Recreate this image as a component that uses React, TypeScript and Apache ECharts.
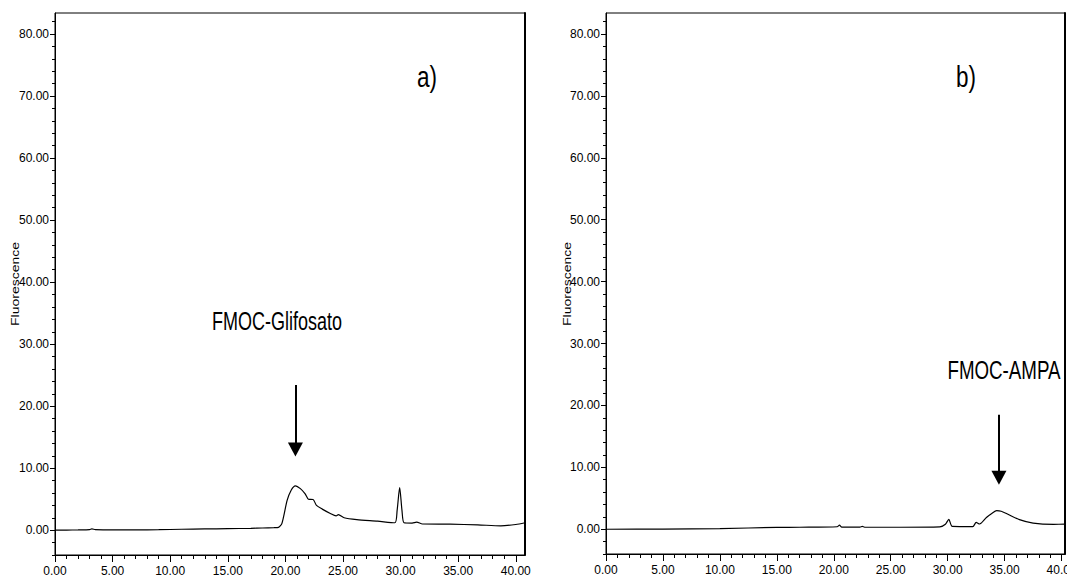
import React, { useEffect, useRef } from "react";
import * as echarts from "echarts";

// ---- data ----
const timeA = [0, 1, 2, 3, 3.2, 3.5, 5, 7, 9, 11, 13, 15, 17, 18, 19, 19.4, 19.7, 20.15, 20.5, 20.87, 21.3, 21.7, 22.0, 22.4, 22.7, 23.2, 23.9, 24.4, 24.6, 25.1, 26.2, 28, 29.5, 29.7, 29.92, 30.12, 30.3, 31.0, 31.4, 31.9, 34.3, 36.7, 38.7, 40, 40.8];
const signalA = [0.0, 0.02, 0.05, 0.1, 0.2, 0.1, 0.05, 0.05, 0.08, 0.15, 0.2, 0.25, 0.3, 0.35, 0.4, 0.45, 1.1, 4.8, 6.45, 7.15, 6.7, 5.9, 5.0, 4.95, 4.0, 3.4, 2.7, 2.3, 2.5, 2.0, 1.7, 1.45, 1.2, 3.2, 6.85, 3.2, 1.2, 1.15, 1.3, 1.0, 0.97, 0.86, 0.7, 0.92, 1.2];

const timeB = [0, 5, 10, 15, 17, 20.3, 20.5, 20.7, 22.3, 22.5, 22.7, 25.8, 29.3, 29.8, 30.1, 30.4, 32.2, 32.5, 32.8, 33.4, 33.9, 34.3, 34.7, 35.2, 36.3, 37.5, 39.3, 40.3];
const signalB = [0.0, 0.02, 0.1, 0.3, 0.32, 0.4, 0.65, 0.35, 0.35, 0.45, 0.33, 0.32, 0.37, 0.8, 1.6, 0.45, 0.42, 1.1, 0.85, 1.9, 2.6, 3.0, 2.9, 2.5, 1.56, 1.0, 0.8, 0.82];

const xMajorTicks = [0, 5, 10, 15, 20, 25, 30, 35, 40];
const xMinorTicks = [0, 1, 2, 3, 4, 5, 6, 7, 8, 9, 10, 11, 12, 13, 14, 15, 16, 17, 18, 19, 20, 21, 22, 23, 24, 25, 26, 27, 28, 29, 30, 31, 32, 33, 34, 35, 36, 37, 38, 39, 40];
const yMajorTicks = [0, 10, 20, 30, 40, 50, 60, 70, 80];
const yMinorTicks = [-4, -2, 0, 2, 4, 6, 8, 10, 12, 14, 16, 18, 20, 22, 24, 26, 28, 30, 32, 34, 36, 38, 40, 42, 44, 46, 48, 50, 52, 54, 56, 58, 60, 62, 64, 66, 68, 70, 72, 74, 76, 78, 80, 82];

const xMaxA = 40.8;
const xMaxB = 40.3;
const yMin = -4;
const yMax = 83.4;

const arrowA = [[20.87, 23.4], [20.87, 13.0]];
const arrowB = [[34.5, 18.5], [34.5, 8.3]];

const panelLabels = ["a)", "b)"];
const peakLabels = ["FMOC-Glifosato", "FMOC-AMPA"];
const yTitle = "Fluorescence";

const tickFont = "'Liberation Sans Narrow', 'Arial Narrow', 'Liberation Sans', Arial, sans-serif";
const textFont = "'Liberation Sans', Arial, sans-serif";

function pairs(xs: number[], ys: number[]) {
  return xs.map((x, i) => [x, ys[i]]);
}

export default function App() {
  const ref = useRef<HTMLDivElement>(null);

  useEffect(() => {
    if (!ref.current) return;
    const chart = echarts.init(ref.current, undefined, { renderer: "svg" });

    const grids = [
      { left: 55, top: 13, width: 470, height: 542 },
      { left: 606, top: 13, width: 459, height: 541 },
    ];
    const xMaxes = [xMaxA, xMaxB];

    const xAxis: any[] = [];
    const yAxis: any[] = [];
    grids.forEach((_, i) => {
      xAxis.push({
        gridIndex: i,
        type: "value",
        position: "bottom",
        min: 0,
        max: xMaxes[i],
        axisLine: { show: true, onZero: false, lineStyle: { color: "#000", width: 1 } },
        axisTick: { show: true, customValues: xMajorTicks, length: 7, lineStyle: { color: "#000", width: 1 } },
        axisLabel: {
          show: true,
          customValues: xMajorTicks,
          formatter: (v: number) => v.toFixed(2),
          margin: 10,
          color: "#000",
          fontSize: 12,
          fontFamily: tickFont,
          hideOverlap: false,
        },
        splitLine: { show: false },
      });
      xAxis.push({
        gridIndex: i,
        type: "value",
        position: "bottom",
        min: 0,
        max: xMaxes[i],
        axisLine: { show: false, onZero: false },
        axisTick: { show: true, customValues: xMinorTicks, length: 4, lineStyle: { color: "#000", width: 1 } },
        axisLabel: { show: false },
        splitLine: { show: false },
      });
      yAxis.push({
        gridIndex: i,
        type: "value",
        position: "left",
        min: yMin,
        max: yMax,
        axisLine: { show: true, onZero: false, lineStyle: { color: "#000", width: 1 } },
        axisTick: { show: true, customValues: yMajorTicks, length: 5, lineStyle: { color: "#000", width: 1 } },
        axisLabel: {
          show: true,
          customValues: yMajorTicks,
          formatter: (v: number) => v.toFixed(2),
          margin: 6,
          color: "#000",
          fontSize: 12,
          fontFamily: tickFont,
        },
        splitLine: { show: false },
      });
      yAxis.push({
        gridIndex: i,
        type: "value",
        position: "left",
        min: yMin,
        max: yMax,
        axisLine: { show: false, onZero: false },
        axisTick: { show: true, customValues: yMinorTicks, length: 3, lineStyle: { color: "#000", width: 1 } },
        axisLabel: { show: false },
        splitLine: { show: false },
      });
      yAxis.push({
        gridIndex: i,
        type: "value",
        position: "right",
        min: yMin,
        max: yMax,
        axisLine: { show: true, onZero: false, lineStyle: { color: "#000", width: 2 } },
        axisTick: { show: false },
        axisLabel: { show: false },
        splitLine: { show: false },
      });
    });

    const mkSeries = (i: number, xs: number[], ys: number[], arrow: number[][]) => ({
      type: "line",
      xAxisIndex: i * 2,
      yAxisIndex: i * 3,
      data: pairs(xs, ys),
      showSymbol: false,
      symbol: "none",
      smooth: 0.25,
      lineStyle: { color: "#000", width: 1.2 },
      silent: true,
      markLine: {
        silent: true,
        symbol: ["none", "triangle"],
        symbolSize: [15, 14],
        lineStyle: { color: "#000", width: 2, type: "solid" },
        itemStyle: { color: "#000" },
        label: { show: false },
        emphasis: { disabled: true },
        data: [[{ coord: arrow[0] }, { coord: arrow[1] }]],
      },
    });

    const txt = (text: string, x: number, y: number, size: number, sx: number) => ({
      type: "text",
      x,
      y,
      scaleX: sx,
      style: {
        text,
        fontSize: size,
        fontFamily: textFont,
        fill: "#000",
        align: "center",
        verticalAlign: "middle",
      },
      silent: true,
    });

    const yTitleText = (x: number) => ({
      type: "text",
      x,
      y: 284,
      rotation: Math.PI / 2,
      scaleY: 0.8,
      style: {
        text: yTitle,
        fontSize: 14,
        fontFamily: textFont,
        fill: "#000",
        align: "center",
        verticalAlign: "middle",
      },
      silent: true,
    });

    chart.setOption({
      animation: false,
      backgroundColor: "#fff",
      grid: grids.map((g) => ({
        ...g,
        show: true,
        borderColor: "#000",
        borderWidth: 1,
        backgroundColor: "transparent",
        containLabel: false,
        outerBoundsMode: "none",
      })),
      xAxis,
      yAxis,
      series: [mkSeries(0, timeA, signalA, arrowA), mkSeries(1, timeB, signalB, arrowB)],
      graphic: [
        txt(panelLabels[0], 427, 77, 30, 0.75),
        txt(panelLabels[1], 966, 77, 30, 0.75),
        txt(peakLabels[0], 277, 321, 25, 0.72),
        txt(peakLabels[1], 1004, 371, 25, 0.75),
        yTitleText(15.5),
        yTitleText(567),
      ],
    });

    return () => chart.dispose();
  }, []);

  return (
    <div
      ref={ref}
      style={{ position: "fixed", left: 0, top: 0, width: 1067, height: 580, background: "#fff" }}
    />
  );
}
